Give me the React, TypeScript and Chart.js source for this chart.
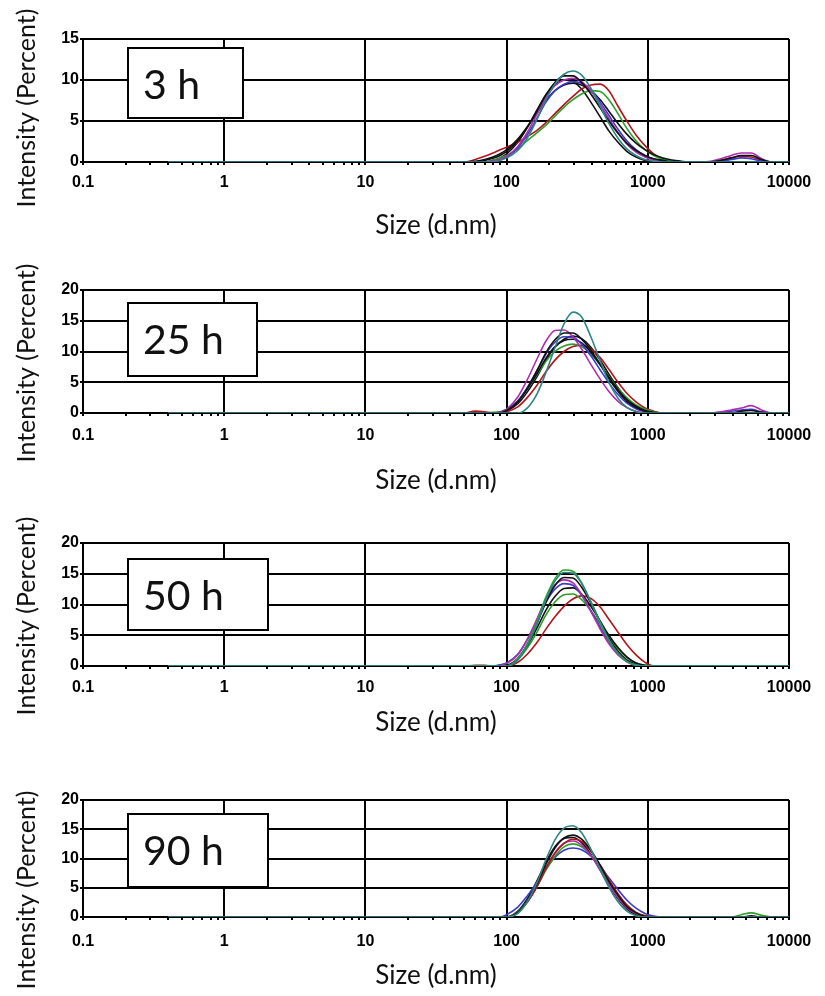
import React, { useEffect, useRef } from 'react';
import { Chart, registerables } from 'chart.js';

Chart.register(...registerables);

// ---------------- DATA ----------------
// Hydrodynamic size grid (d.nm), shared by every run
const SIZES_NM = [
  0.4, 50, 60, 70, 80, 90,
  100, 120, 140, 165, 190, 220, 255, 295, 340, 395,
  460, 530, 615, 710, 825, 955, 1100, 1280, 1480, 1720,
  2000, 2400, 2800, 3300, 3900, 4600, 5400, 6400, 7500, 10000,
];

const X_MAJOR_TICKS = [0.1, 1, 10, 100, 1000, 10000];
const X_MINOR_FACTORS = [2, 3, 4, 5, 6, 7, 8, 9];
const Y_MAX = [15, 20, 20, 20];
const Y_STEP = 2.5;
const Y_LABEL_EVERY = 5;
const PANEL_LABELS = ['3 h', '25 h', '50 h', '90 h'];
const X_TITLE = 'Size (d.nm)';
const Y_TITLE = 'Intensity (Percent)';

const TEAL = '#2e8585';
const BLACK = '#111111';
const MAGENTA = '#b02cb0';
const BLUE = '#3a3acc';
const GREEN = '#2aa02a';
const RED = '#b3141c';

// 3 h
const H3_TEAL = [0,0,0,0,0,0.2, 0.5,1.4,2.9,5.3,7.6,9.5,10.7,11.1,10.6,9.0, 6.8,4.7,2.9,1.6,0.8,0.3,0.1,0,0,0, 0,0,0,0,0,0,0,0,0,0];
const H3_BLACK_A = [0,0,0,0.2,0.45,0.8, 1.3,2.6,4.2,6.3,8.2,9.7,10.5,10.5,9.7,8.3, 6.6,5.0,3.5,2.3,1.4,0.8,0.4,0.2,0,0, 0,0,0,0.2,0.5,0.8,0.8,0.3,0,0];
const H3_MAGENTA = [0,0,0,0,0.1,0.3, 0.7,1.9,3.6,5.9,7.9,9.3,10.0,10.2,9.8,8.7, 7.0,5.3,3.6,2.2,1.2,0.6,0.25,0,0,0, 0,0,0.1,0.4,0.8,1.1,1.1,0.4,0,0];
const H3_BLUE = [0,0,0,0,0.1,0.3, 0.6,1.7,3.3,5.4,7.3,8.7,9.5,9.8,9.6,8.8, 7.3,5.7,4.0,2.6,1.5,0.8,0.35,0.1,0,0, 0,0,0,0.1,0.3,0.5,0.4,0.1,0,0];
const H3_BLACK_B = [0,0,0.1,0.3,0.6,1.0, 1.5,2.8,4.3,6.0,7.5,8.7,9.4,9.6,9.4,8.7, 7.6,6.2,4.7,3.4,2.3,1.5,0.9,0.5,0.25,0.1, 0,0,0,0,0,0,0,0,0,0];
const H3_GREEN = [0,0,0,0,0.2,0.5, 0.8,1.6,2.6,3.6,4.5,5.6,6.7,7.6,8.3,8.7, 8.6,7.6,5.9,4.1,2.6,1.5,0.8,0.35,0.1,0, 0,0,0,0,0,0,0,0,0,0];
const H3_RED = [0,0,0.3,0.7,1.1,1.5, 1.8,2.4,3.1,3.9,4.8,5.9,7.0,8.0,8.9,9.4, 9.5,8.7,6.8,5.0,3.3,2.0,1.0,0.4,0.1,0, 0,0,0,0.2,0.5,0.7,0.6,0.2,0,0];
const H3_BLACK_C = [0,0,0,0,0.2,0.5, 1.0,2.4,4.2,6.4,8.2,9.4,10.0,9.8,8.9,7.3, 5.5,3.8,2.4,1.3,0.6,0.2,0,0,0,0, 0,0,0,0,0,0,0,0,0,0];

// 25 h
const H25_TEAL = [0,0,0,0,0,0, 0,0,0.8,3.2,6.6,10.6,14.5,16.4,15.6,12.4, 8.5,5.0,2.4,0.9,0.2,0,0,0,0,0, 0,0,0,0,0,0,0,0,0,0];
const H25_BLACK_A = [0,0,0,0,0,0, 0.4,1.8,4.0,7.0,9.8,11.9,13.0,13.0,12.0,10.2, 7.9,5.6,3.5,1.9,0.9,0.3,0,0,0,0, 0,0,0,0,0,0.3,0.4,0.1,0,0];
const H25_MAGENTA = [0,0,0,0,0,0.1, 0.6,2.6,5.4,8.9,11.7,13.4,13.5,12.4,10.4,7.9, 5.5,3.5,1.9,0.9,0.3,0,0,0,0,0, 0,0,0,0.2,0.5,0.8,1.2,0.5,0,0];
const H25_BLUE = [0,0,0,0,0,0, 0.4,1.9,4.1,7.0,9.6,11.5,12.4,12.3,11.2,9.3, 7.0,4.9,3.0,1.6,0.7,0.2,0,0,0,0, 0,0,0,0.1,0.3,0.5,0.6,0.2,0,0];
const H25_BLACK_B = [0,0,0,0,0,0.1, 0.5,1.9,3.9,6.5,8.9,10.8,11.8,12.0,11.4,9.9, 7.9,5.8,3.8,2.2,1.1,0.4,0.1,0,0,0, 0,0,0,0,0,0,0,0,0,0];
const H25_GREEN = [0,0,0,0,0.1,0.2, 0.6,2.0,3.9,6.3,8.4,10.0,10.9,11.2,10.8,9.6, 7.8,5.9,4.0,2.5,1.3,0.6,0.2,0,0,0, 0,0,0,0,0,0,0,0,0,0];
const H25_RED = [0,0,0.3,0.2,0,0, 0.2,1.0,2.5,4.6,6.7,8.6,10.0,10.8,11.0,10.4, 9.0,7.1,5.0,3.2,1.8,0.8,0.3,0,0,0, 0,0,0,0,0,0,0,0,0,0];
const H25_BLACK_C = [0,0,0,0,0,0, 0.3,1.5,3.4,6.0,8.6,10.7,12.0,12.5,12.1,10.7, 8.6,6.3,4.1,2.3,1.1,0.4,0,0,0,0, 0,0,0,0,0,0,0,0,0,0];

// 50 h
const H50_TEAL = [0,0,0,0,0,0, 0,1.0,3.3,7.0,10.8,13.8,15.2,15.1,13.4,10.5, 7.2,4.3,2.1,0.8,0.2,0,0,0,0,0, 0,0,0,0,0,0,0,0,0,0];
const H50_GREEN_A = [0,0,0,0,0,0, 0,1.2,3.6,7.4,11.2,14.2,15.6,15.4,13.5,10.4, 7.0,4.1,2.0,0.7,0.1,0,0,0,0,0, 0,0,0,0,0,0,0,0,0,0];
const H50_BLACK_A = [0,0,0,0,0,0, 0.1,1.2,3.5,7.0,10.4,13.1,14.4,14.3,12.8,10.2, 7.2,4.5,2.4,1.0,0.3,0,0,0,0,0, 0,0,0,0,0,0,0,0,0,0];
const H50_MAGENTA = [0,0,0,0,0,0.1, 0.4,1.8,4.3,7.8,11.0,13.2,14.0,13.5,11.6,8.9, 6.0,3.6,1.8,0.7,0.1,0,0,0,0,0, 0,0,0,0,0,0,0,0,0,0];
const H50_BLUE = [0,0,0,0,0,0.2, 0.5,1.9,4.3,7.5,10.4,12.5,13.4,13.1,11.5,9.0, 6.3,3.9,2.0,0.8,0.2,0,0,0,0,0, 0,0,0,0,0,0,0,0,0,0];
const H50_BLACK_B = [0,0,0,0,0,0, 0,1.2,3.3,6.3,9.1,11.3,12.6,12.7,11.7,9.7, 7.3,5.0,3.0,1.5,0.5,0.1,0,0,0,0, 0,0,0,0,0,0,0,0,0,0];
const H50_GREEN_B = [0,0,0,0,0,0, 0,1.0,2.9,5.6,8.3,10.4,11.6,11.7,10.8,9.0, 6.8,4.6,2.8,1.4,0.5,0.1,0,0,0,0, 0,0,0,0,0,0,0,0,0,0];
const H50_RED = [0,0,0.1,0.1,0,0, 0,0.6,1.9,3.9,6.0,8.0,9.7,10.9,11.4,11.0, 9.6,7.6,5.5,3.5,1.8,0.6,0,0,0,0, 0,0,0,0,0,0,0,0,0,0];

// 90 h
const H90_TEAL = [0,0,0,0,0,0, 0,0.6,2.6,6.0,9.8,13.2,15.2,15.6,14.4,11.6, 8.2,5.1,2.6,1.0,0.2,0,0,0,0,0, 0,0,0,0,0,0,0,0,0,0];
const H90_BLACK_A = [0,0,0,0,0,0, 0,0.8,2.7,5.8,9.0,11.8,13.5,14.0,13.3,11.4, 8.8,6.1,3.7,1.8,0.7,0.1,0,0,0,0, 0,0,0,0,0,0,0.2,0,0,0];
const H90_RED = [0,0,0,0,0,0, 0,0.7,2.5,5.3,8.3,10.9,12.6,13.3,12.9,11.3, 8.9,6.4,4.0,2.1,0.8,0.2,0,0,0,0, 0,0,0,0,0,0,0,0,0,0];
const H90_MAGENTA = [0,0,0,0,0,0, 0,0.8,2.6,5.4,8.4,11.0,12.6,13.0,12.3,10.5, 8.0,5.5,3.3,1.6,0.6,0.1,0,0,0,0, 0,0,0,0,0,0,0,0,0,0];
const H90_GREEN = [0,0,0,0,0,0, 0,0.9,2.7,5.3,8.0,10.4,12.0,12.5,12.0,10.5, 8.3,5.9,3.7,2.0,0.8,0.2,0,0,0,0, 0,0,0,0,0,0.4,0.7,0.3,0,0];
const H90_BLUE = [0,0,0,0,0,0, 0.4,1.7,3.6,6.0,8.3,10.2,11.4,11.8,11.5,10.4, 8.7,6.7,4.7,2.9,1.5,0.6,0.15,0,0,0, 0,0,0,0,0,0,0,0,0,0];
const H90_BLACK_B = [0,0,0,0,0,0, 0,1.0,3.1,6.3,9.4,12.0,13.4,13.6,12.7,10.7, 8.0,5.4,3.1,1.4,0.4,0,0,0,0,0, 0,0,0,0,0,0,0,0,0,0];

const PANELS = [
  [
    { name: 'Run 1', color: TEAL, values: H3_TEAL },
    { name: 'Run 2', color: BLACK, values: H3_BLACK_A },
    { name: 'Run 3', color: MAGENTA, values: H3_MAGENTA },
    { name: 'Run 4', color: BLUE, values: H3_BLUE },
    { name: 'Run 5', color: BLACK, values: H3_BLACK_B },
    { name: 'Run 6', color: GREEN, values: H3_GREEN },
    { name: 'Run 7', color: RED, values: H3_RED },
    { name: 'Run 8', color: BLACK, values: H3_BLACK_C },
  ],
  [
    { name: 'Run 1', color: TEAL, values: H25_TEAL },
    { name: 'Run 2', color: BLACK, values: H25_BLACK_A },
    { name: 'Run 3', color: MAGENTA, values: H25_MAGENTA },
    { name: 'Run 4', color: BLUE, values: H25_BLUE },
    { name: 'Run 5', color: BLACK, values: H25_BLACK_B },
    { name: 'Run 6', color: GREEN, values: H25_GREEN },
    { name: 'Run 7', color: RED, values: H25_RED },
    { name: 'Run 8', color: BLACK, values: H25_BLACK_C },
  ],
  [
    { name: 'Run 1', color: TEAL, values: H50_TEAL },
    { name: 'Run 2', color: GREEN, values: H50_GREEN_A },
    { name: 'Run 3', color: BLACK, values: H50_BLACK_A },
    { name: 'Run 4', color: MAGENTA, values: H50_MAGENTA },
    { name: 'Run 5', color: BLUE, values: H50_BLUE },
    { name: 'Run 6', color: BLACK, values: H50_BLACK_B },
    { name: 'Run 7', color: GREEN, values: H50_GREEN_B },
    { name: 'Run 8', color: RED, values: H50_RED },
  ],
  [
    { name: 'Run 1', color: TEAL, values: H90_TEAL },
    { name: 'Run 2', color: BLACK, values: H90_BLACK_A },
    { name: 'Run 3', color: RED, values: H90_RED },
    { name: 'Run 4', color: MAGENTA, values: H90_MAGENTA },
    { name: 'Run 5', color: GREEN, values: H90_GREEN },
    { name: 'Run 6', color: BLUE, values: H90_BLUE },
    { name: 'Run 7', color: BLACK, values: H90_BLACK_B },
  ],
];

// ---------------- LAYOUT ----------------
const PAGE_W = 825;
const PAGE_H = 996;
const PAD_TOP = 30;
const PAD_RIGHT = 36;
const Y_AXIS_W = 83;
const LAYOUT = [
  { top: 9, plotH: 123, hx: 81, tickPad: 8, yTitleY: 108, box: { dx: 45, dy: 9, w: 115, h: 70 } },
  { top: 260, plotH: 123, hx: 85, tickPad: 10, yTitleY: 363, box: { dx: 45, dy: 13, w: 129, h: 73 } },
  { top: 513, plotH: 123, hx: 74, tickPad: 9, yTitleY: 616, box: { dx: 45, dy: 16, w: 140, h: 71 } },
  { top: 770, plotH: 117, hx: 76, tickPad: 12, yTitleY: 890, box: { dx: 45, dy: 14, w: 140, h: 73 } },
];

const X_TICK_VALUES: number[] = [];
X_MAJOR_TICKS.forEach((m, i) => {
  X_TICK_VALUES.push(m);
  if (i < X_MAJOR_TICKS.length - 1) X_MINOR_FACTORS.forEach((f) => X_TICK_VALUES.push(m * f));
});
const isMajorX = (v: number) => X_MAJOR_TICKS.includes(v);

const TICK_FONT = { family: '"Liberation Sans", Arial, sans-serif', size: 16, weight: 'bold' as const };
const TITLE_FAMILY = 'Lato, "Open Sans", sans-serif';

const panelDecor = {
  id: 'panelDecor',
  afterDraw(chart: any, _args: any, opts: any) {
    const { ctx, chartArea } = chart;
    ctx.save();
    ctx.translate(opts.yTitleX, opts.yTitleY);
    ctx.rotate(-Math.PI / 2);
    ctx.font = `25px ${TITLE_FAMILY}`;
    ctx.fillStyle = '#111';
    ctx.textAlign = 'center';
    ctx.textBaseline = 'middle';
    ctx.fillText(Y_TITLE, 0, 0);
    ctx.restore();

    const b = opts.box;
    const bx = chartArea.left + b.dx;
    const by = chartArea.top + b.dy;
    ctx.save();
    ctx.fillStyle = '#fff';
    ctx.fillRect(bx, by, b.w, b.h);
    ctx.strokeStyle = '#000';
    ctx.lineWidth = 2;
    ctx.strokeRect(bx, by, b.w, b.h);
    ctx.font = `41px ${TITLE_FAMILY}`;
    ctx.fillStyle = '#111';
    ctx.textAlign = 'left';
    ctx.textBaseline = 'alphabetic';
    ctx.fillText(opts.label, bx + 15, by + 51);
    ctx.restore();
  },
};

function Panel({ idx }: { idx: number }) {
  const ref = useRef<HTMLCanvasElement>(null);
  const L = LAYOUT[idx];
  const h = PAD_TOP + L.plotH + L.hx;

  useEffect(() => {
    const canvas = ref.current;
    if (!canvas) return;
    const chart = new Chart(canvas, {
      type: 'line',
      data: {
        datasets: PANELS[idx].map((s) => ({
          label: s.name,
          data: SIZES_NM.map((x, i) => ({ x, y: s.values[i] })),
          borderColor: s.color,
          backgroundColor: s.color,
          borderWidth: 1.6,
          pointRadius: 0,
          fill: false,
          cubicInterpolationMode: 'monotone',
        })),
      },
      options: {
        animation: false,
        responsive: false,
        events: [],
        layout: { padding: { top: PAD_TOP, left: 0, right: PAD_RIGHT, bottom: 0 } },
        plugins: {
          legend: { display: false },
          tooltip: { enabled: false },
          panelDecor: {
            label: PANEL_LABELS[idx],
            box: L.box,
            yTitleX: 27,
            yTitleY: L.yTitleY - L.top,
          },
        } as any,
        scales: {
          x: {
            type: 'logarithmic',
            min: X_MAJOR_TICKS[0],
            max: X_MAJOR_TICKS[X_MAJOR_TICKS.length - 1],
            afterBuildTicks: (scale: any) => {
              scale.ticks = X_TICK_VALUES.map((v) => ({ value: v, major: isMajorX(v) }));
            },
            afterFit: (scale: any) => {
              scale.height = L.hx;
            },
            ticks: {
              autoSkip: false,
              maxRotation: 0,
              minRotation: 0,
              padding: L.tickPad,
              color: '#000',
              font: TICK_FONT,
              callback: (v: any) => (isMajorX(Number(v)) ? String(v) : ''),
            },
            grid: {
              color: (ctx: any) => (ctx.tick && isMajorX(ctx.tick.value) ? '#000' : 'rgba(0,0,0,0)'),
              lineWidth: 2,
              drawTicks: true,
              tickLength: 3,
              tickWidth: 2,
              tickColor: '#000',
            },
            border: { display: true, color: '#000', width: 2 },
            title: {
              display: true,
              text: X_TITLE,
              color: '#111',
              font: { family: TITLE_FAMILY, size: 26 },
              padding: { top: 0, bottom: 2 },
            },
          },
          y: {
            type: 'linear',
            min: 0,
            max: Y_MAX[idx],
            afterFit: (scale: any) => {
              scale.width = Y_AXIS_W;
            },
            ticks: {
              stepSize: Y_STEP,
              padding: 1,
              color: '#000',
              font: TICK_FONT,
              callback: (v: any) => (Number(v) % Y_LABEL_EVERY === 0 ? String(v) : ''),
            },
            grid: {
              color: (ctx: any) =>
                ctx.tick && ctx.tick.value % Y_LABEL_EVERY === 0 ? '#000' : 'rgba(0,0,0,0)',
              lineWidth: 2,
              drawTicks: true,
              tickLength: 3,
              tickWidth: 2,
              tickColor: '#000',
            },
            border: { display: true, color: '#000', width: 2 },
          },
        },
      } as any,
      plugins: [panelDecor as any],
    });
    return () => chart.destroy();
  }, [idx]);

  return (
    <canvas
      ref={ref}
      width={PAGE_W}
      height={h}
      style={{ position: 'absolute', left: 0, top: L.top, width: PAGE_W, height: h, display: 'block' }}
    />
  );
}

export default function App() {
  return (
    <div style={{ position: 'absolute', left: 0, top: 0, width: PAGE_W, height: PAGE_H, background: '#fff', overflow: 'hidden' }}>
      {LAYOUT.map((_, i) => (
        <Panel key={i} idx={i} />
      ))}
    </div>
  );
}
